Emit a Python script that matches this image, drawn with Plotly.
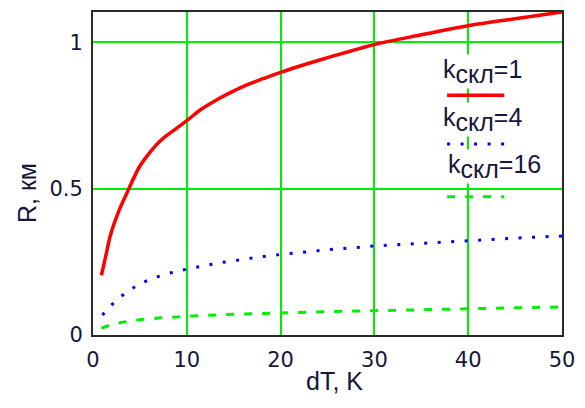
import plotly.graph_objects as go

# Data
dT_k1 = [0.9, 1.4, 1.8, 2.3, 2.9, 3.8, 4.4, 5, 5.9, 6.8, 7.6, 8.5, 10, 11.5, 13.2, 14.8, 16.4, 18.2, 20, 22.5, 25, 27.5, 30, 35, 40, 45, 50]
R_k1 = [0.204, 0.275, 0.334, 0.385, 0.435, 0.498, 0.540, 0.577, 0.617, 0.651, 0.675, 0.696, 0.732, 0.770, 0.803, 0.830, 0.854, 0.876, 0.897, 0.923, 0.947, 0.970, 0.992, 1.025, 1.056, 1.080, 1.103]

dT_k4 = [1.0, 2.2, 3.7, 5.2, 6.6, 8, 9.4, 10.7, 12.1, 13.6, 15, 16.4, 17.8, 20, 25, 30, 35, 40, 45, 50]
R_k4 = [0.068, 0.110, 0.150, 0.178, 0.196, 0.210, 0.221, 0.230, 0.238, 0.247, 0.254, 0.261, 0.267, 0.275, 0.291, 0.304, 0.314, 0.322, 0.331, 0.338]

dT_k16 = [0.9, 2, 3.2, 5, 7, 10, 15, 20, 25, 30, 35, 40, 45, 50]
R_k16 = [0.023, 0.036, 0.044, 0.052, 0.058, 0.064, 0.071, 0.076, 0.080, 0.083, 0.086, 0.088, 0.092, 0.096]

legend_values = ["1", "4", "16"]
x_ticks = [0, 10, 20, 30, 40, 50]
y_ticks = [0, 0.5, 1]
y_tick_text = ["0", "0.5", "1"]

RED = "#ff0000"
BLUE = "#0000ff"
GREEN = "#00ee00"
TXT = "#16163a"

fig = go.Figure()
fig.add_trace(go.Scatter(x=dT_k1, y=R_k1, mode="lines", line_shape="spline",
                         line=dict(color=RED, width=3.5), showlegend=False))
fig.add_trace(go.Scatter(x=dT_k4, y=R_k4, mode="lines",
                         line=dict(color=BLUE, width=3, dash="3px,10.5px"), showlegend=False))
fig.add_trace(go.Scatter(x=dT_k16, y=R_k16, mode="lines",
                         line=dict(color=GREEN, width=3, dash="8px,10px"), showlegend=False))

axis_common = dict(
    showline=True, linecolor="#2a2a2a", linewidth=2, mirror=True,
    showgrid=True, gridcolor="#00ee00", gridwidth=2,
    zeroline=False, ticks="",
    tickfont=dict(family="DejaVu Sans", size=21, color=TXT),
)

fig.update_xaxes(range=[0, 50], tickvals=x_ticks, ticklabelstandoff=5, **axis_common)
fig.update_yaxes(range=[0, 1.103], tickvals=y_ticks, ticktext=y_tick_text, ticklabelstandoff=4, **axis_common)

# white patch behind the legend (hides grid lines)
fig.add_shape(type="rect", xref="paper", yref="paper",
              x0=0.738, x1=0.877, y0=0.40, y1=0.877,
              fillcolor="white", line=dict(width=0), layer="between")

leg_font = dict(family="Liberation Sans", size=25, color=TXT)
leg_text_y = [0.815, 0.668, 0.523]
leg_text_x = [0.745, 0.745, 0.755]
for val, tx, ty in zip(legend_values, leg_text_x, leg_text_y):
    lab = 'k<sub><span style="font-size:25px">скл</span></sub>=' + val
    fig.add_annotation(text=lab, xref="paper", yref="paper", x=tx, y=ty,
                       xanchor="left", yanchor="middle", showarrow=False,
                       font=leg_font, bgcolor="white", borderpad=0)

leg_line_y = [0.742, 0.591, 0.428]
leg_styles = [dict(color=RED, width=3.5), dict(color=BLUE, width=3, dash="3px,10.5px"),
              dict(color=GREEN, width=3, dash="8px,10px")]
for ly, st in zip(leg_line_y, leg_styles):
    fig.add_shape(type="line", xref="paper", yref="paper",
                  x0=0.755, x1=0.877, y0=ly, y1=ly, line=st, layer="above")

# axis titles
fig.add_annotation(text="dT, K", xref="paper", yref="paper", x=(335 - 93) / 470, y=-46 / 325,
                   xanchor="center", yanchor="middle", showarrow=False,
                   font=dict(family="Liberation Sans", size=25, color=TXT))
fig.add_annotation(text="R, км", xref="paper", yref="paper", x=-66 / 470, y=(335 - 192) / 325,
                   xanchor="center", yanchor="middle", showarrow=False, textangle=-90,
                   font=dict(family="Liberation Sans", size=25, color=TXT))

fig.update_layout(
    width=585, height=408,
    margin=dict(l=93, r=22, t=10, b=73),
    paper_bgcolor="white", plot_bgcolor="white",
    showlegend=False,
)

fig.write_html("out.html")
